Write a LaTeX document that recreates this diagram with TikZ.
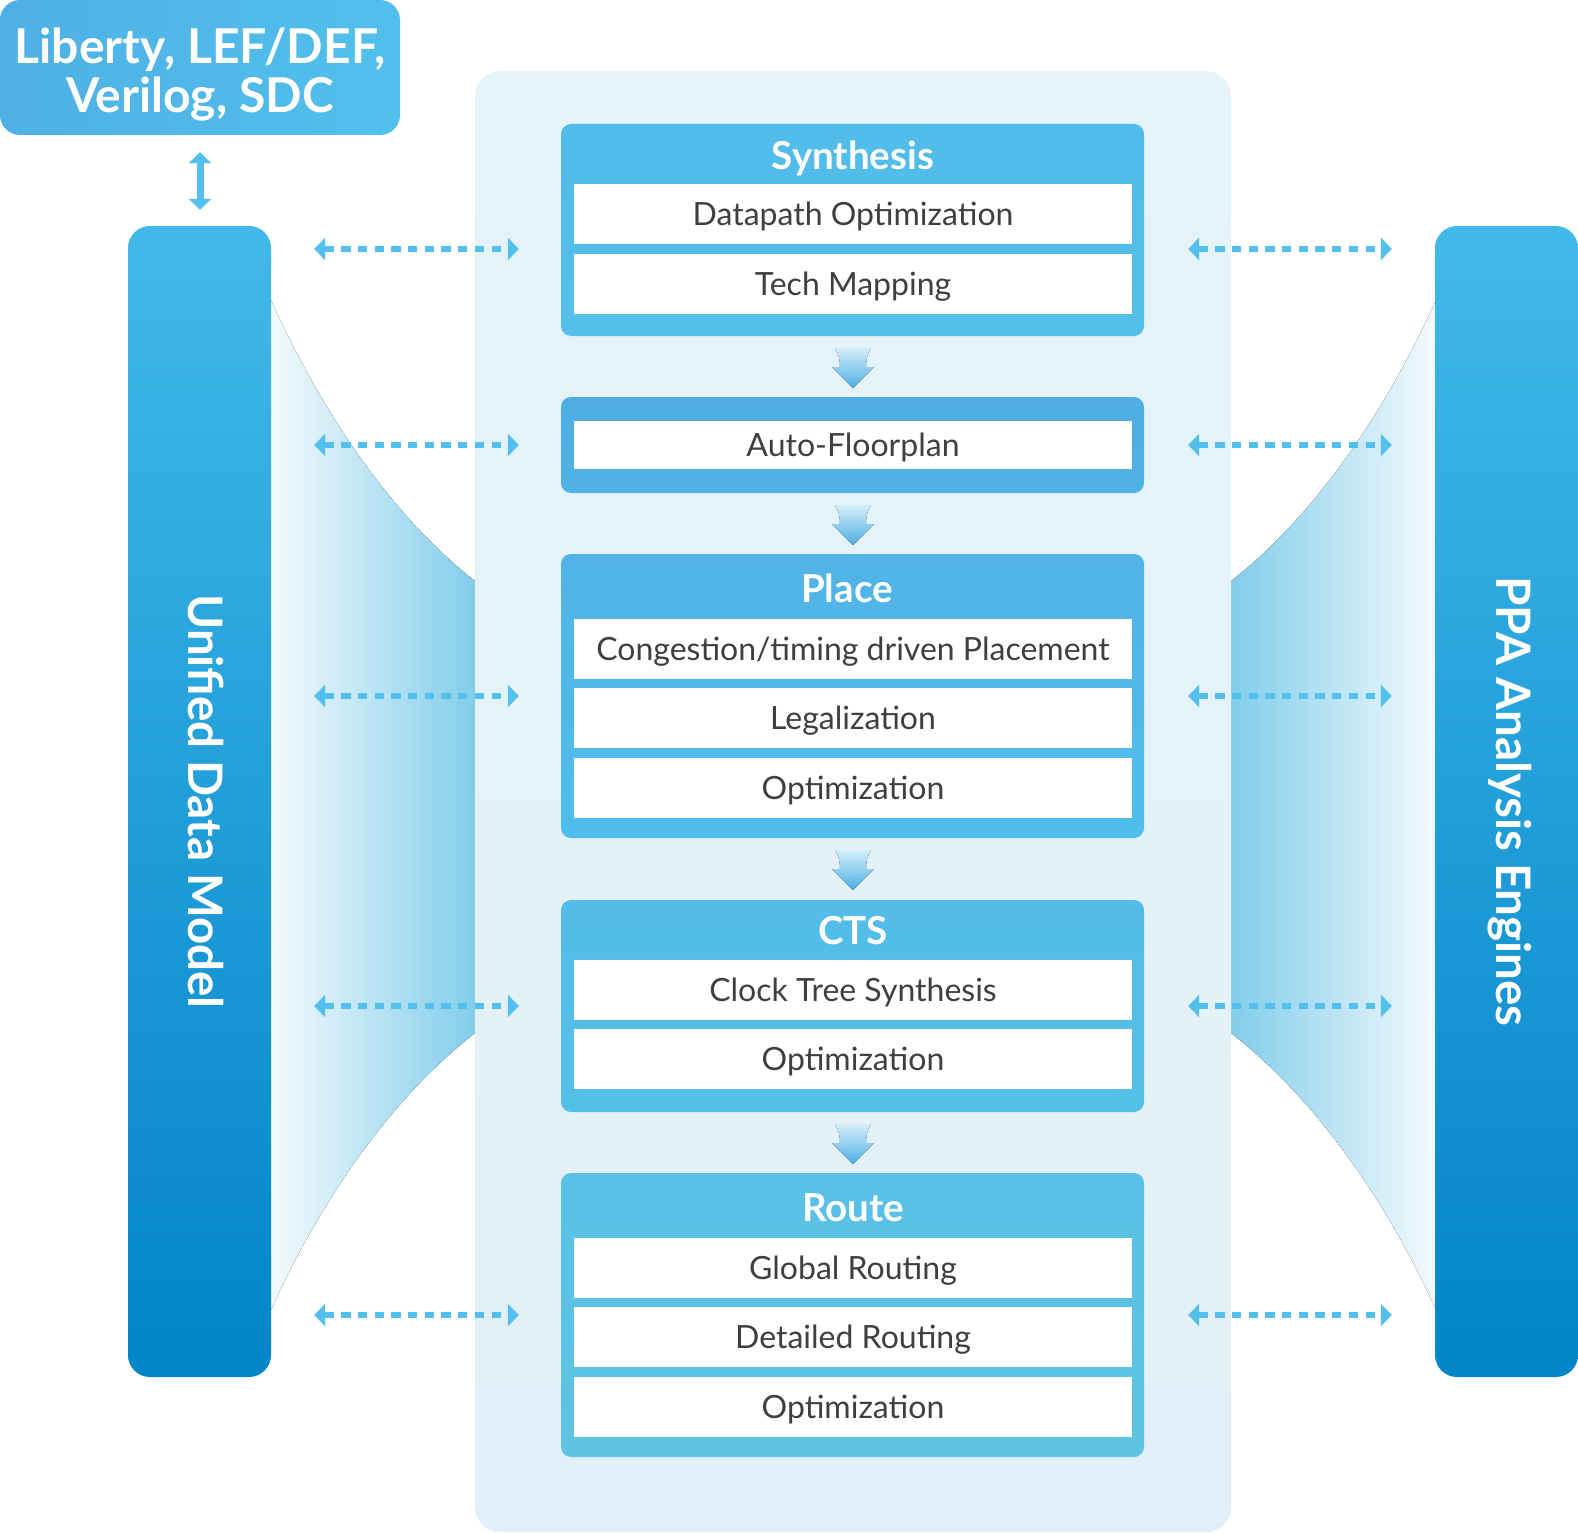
\documentclass[tikz,border=0pt]{standalone}
\usepackage{fontspec}
\setmainfont{Lato}
\usetikzlibrary{arrows.meta,calc}
\definecolor{ink}{HTML}{3F3F3F}
\definecolor{sky}{HTML}{52BFEC}
\definecolor{paneTop}{HTML}{E5F4F9}
\definecolor{paneBot}{HTML}{E3EFF8}
\definecolor{colTop}{HTML}{42B9E9}
\definecolor{colBot}{HTML}{0284C9}
\definecolor{fan}{HTML}{82CDEB}
\definecolor{fanLight}{HTML}{F3FAFC}
\definecolor{srcL}{HTML}{4FB0E5}
\definecolor{srcR}{HTML}{51C0EC}
\definecolor{synA}{HTML}{52BCEA}
\definecolor{synB}{HTML}{54C0E9}
\definecolor{afpA}{HTML}{4FADE3}
\definecolor{afpB}{HTML}{50B2E5}
\definecolor{plcA}{HTML}{51B3E7}
\definecolor{plcB}{HTML}{4FBEEC}
\definecolor{ctsA}{HTML}{53BCE9}
\definecolor{ctsB}{HTML}{55C0E7}
\definecolor{rteA}{HTML}{58C1E6}
\definecolor{rteB}{HTML}{5EC4E2}
\definecolor{chevTop}{HTML}{D2EEF9}
\definecolor{chevBot}{HTML}{4DAEE4}

\begin{document}
\begin{tikzpicture}[x=1pt,y=-1pt,>={Triangle[width=22pt,length=11pt]},
    stagebox/.style={rounded corners=10pt,minimum width=583pt,inner sep=0pt},
    row/.style={fill=white,minimum width=558pt,minimum height=60pt,
      inner sep=0pt,text=ink,font=\fontsize{32}{36}\selectfont,
      text height=23pt,text depth=0pt},
    head/.style={text=white,font=\bfseries\fontsize{38.5}{40}\selectfont,
      text height=27.5pt,text depth=0pt,inner sep=0pt},
    column/.style={rounded corners=22pt,minimum width=143pt,
      minimum height=1151pt,top color=colTop,bottom color=colBot,
      inner sep=0pt},
    coltext/.style={text=white,font=\bfseries\fontsize{47.5}{50}\selectfont,
      rotate=-90,text height=34pt,text depth=0pt,inner sep=0pt},
    link/.style={sky,line width=5.3pt,dash pattern=on 9.3pt off 7.4pt,<->}]
  \useasboundingbox (0,0) rectangle (1578,1533);

  % funnels between the side columns and the flow panel
  \fill[left color=fanLight,right color=fan]
    (271,300) .. controls (316,400) and (385,511) .. (475,581)
    -- (475,1033) .. controls (385,1103) and (316,1210) .. (271,1310) -- cycle;
  \fill[left color=fan,right color=fanLight]
    (1436,300) .. controls (1391,400) and (1321,511) .. (1231,581)
    -- (1231,1033) .. controls (1321,1103) and (1391,1210) .. (1436,1310) -- cycle;

  \node[rounded corners=25pt,top color=paneTop,bottom color=paneBot,
        minimum width=756pt,minimum height=1461pt,inner sep=0pt]
    (flow) at (853,801.5) {};

  % inputs and side columns
  \node[rounded corners=20pt,left color=srcL,right color=srcR,
        minimum width=400pt,minimum height=135pt,inner sep=0pt]
    (src) at (200,67.5) {};
  \node[text=white,align=center,inner sep=0pt,
        font=\bfseries\fontsize{48}{49}\selectfont]
    (srcT) at ([yshift=-7pt]src.center) {Liberty, LEF/DEF,\\Verilog, SDC};
  \node[column] (udm) at (199.5,801.5) {};
  \node[column] (ppa) at (1506.5,801.5) {};
  \node[coltext] (udmT) at ([xshift=6pt]udm.center) {Unified Data Model};
  \node[coltext] (ppaT) at ([xshift=6.5pt]ppa.center) {PPA Analysis Engines};
  \draw[<->,sky,line width=7pt,shorten <=17pt,shorten >=16pt]
    (src.south) -- (src.south |- udm.north);

  % flow stages
  \node[stagebox,top color=synA,bottom color=synB,minimum height=212pt]
    (syn) at (852.5,230) {};
  \node[head] (synH) at (853,156) {Synthesis};
  \node[row] (syn1) at (853,214) {Datapath Optimization};
  \node[row] (syn2) at (853,284) {Tech Mapping};

  \node[stagebox,top color=afpA,bottom color=afpB,minimum height=96pt]
    (afp) at (852.5,445) {};
  \node[row,minimum height=48pt] (afp1) at (853,445) {Auto-Floorplan};

  \node[stagebox,top color=plcA,bottom color=plcB,minimum height=284pt]
    (plc) at (852.5,696) {};
  \node[head] (plcH) at (847,589) {Place};
  \node[row] (plc1) at (853,649) {Congestion/timing driven Placement};
  \node[row] (plc2) at (853,718) {Legalization};
  \node[row] (plc3) at (853,788) {Optimization};

  \node[stagebox,top color=ctsA,bottom color=ctsB,minimum height=212pt]
    (cts) at (852.5,1006) {};
  \node[head] (ctsH) at (853,931) {CTS};
  \node[row] (cts1) at (853,990) {Clock Tree Synthesis};
  \node[row] (cts2) at (853,1059) {Optimization};

  \node[stagebox,top color=rteA,bottom color=rteB,minimum height=284pt]
    (rte) at (852.5,1315) {};
  \node[head] (rteH) at (853,1208) {Route};
  \node[row] (rte1) at (853,1268) {Global Routing};
  \node[row] (rte2) at (853,1337) {Detailed Routing};
  \node[row] (rte3) at (853,1407) {Optimization};

  % down arrows between stages
  \foreach \a in {syn,afp,plc,cts}
    \fill[top color=chevTop,middle color=sky,bottom color=chevBot,
          shift={($(\a.south)+(0.5,12)$)}]
      (-18,0) -- (18,0) .. controls (14,6) and (13,12) .. (13,19)
      -- (21,19) -- (0,40) -- (-21,19) -- (-13,19)
      .. controls (-13,12) and (-14,6) .. (-18,0) -- cycle;

  % links to the side columns
  \coordinate (synL) at ([yshift=-19pt]syn.west);
  \coordinate (synR) at ([yshift=-19pt]syn.east);
  \foreach \l/\r in {synL/synR,afp.west/afp.east,plc.west/plc.east,
                     cts.west/cts.east,rte.west/rte.east} {
    \draw[link,shorten <=43pt,shorten >=42pt] (udm.east |- \l) -- (\l);
    \draw[link,shorten <=44pt,shorten >=43pt] (\r) -- (ppa.west |- \r);
  }
\end{tikzpicture}
\end{document}
